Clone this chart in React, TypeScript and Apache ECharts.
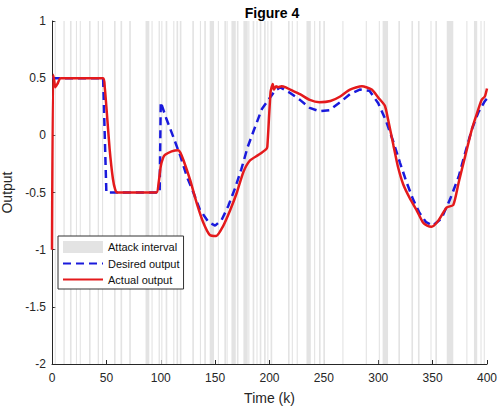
import React, { useEffect, useRef } from "react";
import * as echarts from "echarts";

const FONT = 'Arial, "Liberation Sans", sans-serif';

// Attack intervals [start, end] in k
const attackIntervals: [number, number][] = [
  [2.5, 3.5], [10.5, 11.7], [16.5, 18], [22, 23], [25.5, 26.5], [34, 35.5], [42, 43.2], [46, 47],
  [57, 58.5], [63, 64.5], [71, 72.5], [86, 89.5], [91.5, 92.5], [98, 99.2], [100.5, 101.5],
  [104.5, 106], [111.5, 112.5], [114.5, 116], [117.5, 119], [129, 130.5], [136, 137], [140, 141.5],
  [145, 149], [152.5, 153.5], [158.5, 160], [160.5, 161.5], [165, 169], [170, 171.5], [176, 180],
  [180.5, 181.5], [184.5, 186], [188, 189], [191, 192.5], [195, 196.5], [198, 199], [201, 202.5],
  [217, 218.5], [220.5, 221.5], [225, 226], [234, 238], [241, 242], [245.5, 247], [249.5, 251],
  [267, 268], [288.5, 289.5], [300.5, 301.5], [304, 309], [318.5, 320], [330.5, 332], [336.5, 338],
  [348, 349], [352.5, 354], [363, 369], [381, 382], [388, 391], [394, 395], [397, 398],
];

// Desired output
const desiredK = [0, 47, 50, 99, 100, 105, 111, 118, 124, 130, 136, 144, 150, 156, 162, 168, 174, 180, 187, 193, 199, 205, 210, 219, 228, 237, 246, 255, 265, 274, 283, 292, 300, 307, 314, 320, 326, 332, 338, 344, 350, 358, 366, 374, 380, 386, 392, 398, 400];
const desiredV = [0.5, 0.5, -0.5, -0.5, 0.29, 0.15, 0.0, -0.18, -0.36, -0.5, -0.65, -0.76, -0.79, -0.74, -0.62, -0.47, -0.3, -0.1, 0.08, 0.23, 0.31, 0.39, 0.42, 0.37, 0.31, 0.24, 0.21, 0.22, 0.29, 0.36, 0.4, 0.39, 0.28, 0.13, -0.06, -0.24, -0.41, -0.56, -0.68, -0.76, -0.79, -0.73, -0.56, -0.36, -0.15, 0.05, 0.2, 0.3, 0.32];

// Actual output
const actualK = [0, 1, 2, 3, 5, 8, 47, 48.5, 50, 53, 56, 58, 60, 96, 98, 100, 102, 104, 110, 116, 118, 121, 127, 133, 139, 145, 151, 157, 164, 170, 176, 182, 190, 197, 198, 201, 203, 204, 206, 208, 211, 215, 219, 228, 237, 246, 256, 265, 274, 285, 294, 300, 306, 309, 314, 318, 323, 329, 335, 341, 345, 349, 355, 363, 369, 374, 380, 386, 390, 395, 398, 400];
const actualV = [-1, 0.53, 0.48, 0.42, 0.45, 0.5, 0.5, 0.42, 0.25, -0.12, -0.38, -0.47, -0.5, -0.5, -0.42, -0.27, -0.2, -0.17, -0.14, -0.13, -0.15, -0.22, -0.39, -0.59, -0.76, -0.87, -0.88, -0.8, -0.65, -0.5, -0.32, -0.22, -0.17, -0.12, -0.1, 0.38, 0.45, 0.4, 0.43, 0.42, 0.43, 0.42, 0.4, 0.36, 0.31, 0.29, 0.3, 0.34, 0.4, 0.43, 0.4, 0.33, 0.26, 0.14, -0.09, -0.27, -0.43, -0.55, -0.65, -0.76, -0.79, -0.8, -0.75, -0.63, -0.61, -0.41, -0.18, 0.05, 0.17, 0.31, 0.34, 0.41];

export default function App() {
  const ref = useRef<HTMLDivElement>(null);
  useEffect(() => {
    if (!ref.current) return;
    document.body.style.margin = "0";
    const chart = echarts.init(ref.current, null, { renderer: "svg" });
    const axisColor = "#262626";
    chart.setOption({
      animation: false,
      backgroundColor: "#ffffff",
      title: {
        text: "Figure 4",
        left: 267,
        textAlign: "center",
        top: 1,
        textStyle: { fontFamily: FONT, fontWeight: "bold", fontSize: 14, color: "#000" },
      },
      grid: { left: 52, right: 12, top: 21, bottom: 47, outerBoundsMode: "none", containLabel: false },
      legend: {
        orient: "vertical",
        left: 58,
        top: 236,
        padding: [5, 4, 4, 4],
        itemGap: 5,
        itemWidth: 40,
        itemHeight: 12,
        backgroundColor: "#ffffff",
        borderColor: "#333",
        borderWidth: 1,
        borderRadius: 0,
        textStyle: { fontFamily: FONT, fontSize: 11, color: "#111" },
        data: [
          { name: "Attack interval", icon: "rect" },
          { name: "Desired output", itemStyle: { opacity: 0 } },
          { name: "Actual output", itemStyle: { opacity: 0 } },
        ],
      },
      xAxis: {
        type: "value",
        min: 0,
        max: 400,
        interval: 50,
        name: "Time (k)",
        nameLocation: "middle",
        nameGap: 27,
        nameTextStyle: { fontFamily: FONT, fontSize: 14, color: axisColor },
        axisLine: { show: true, onZero: false, lineStyle: { color: axisColor, width: 1 } },
        axisTick: { show: true, inside: true, length: 4, lineStyle: { color: axisColor } },
        axisLabel: { fontFamily: FONT, fontSize: 12, color: axisColor, margin: 8 },
        splitLine: { show: false },
      },
      yAxis: {
        type: "value",
        min: -2,
        max: 1,
        interval: 0.5,
        name: "Output",
        nameLocation: "middle",
        nameGap: 33,
        nameTextStyle: { fontFamily: FONT, fontSize: 14, color: axisColor },
        axisLine: { show: true, onZero: false, lineStyle: { color: axisColor, width: 1 } },
        axisTick: { show: true, inside: true, length: 4, lineStyle: { color: axisColor } },
        axisLabel: { fontFamily: FONT, fontSize: 12, color: axisColor, margin: 6 },
        splitLine: { show: false },
      },
      series: [
        {
          name: "Attack interval",
          type: "custom",
          z: 1,
          itemStyle: { color: "#e3e3e3" },
          encode: { x: [0, 1] },
          data: attackIntervals,
          renderItem: (params: any, api: any) => {
            const p1 = api.coord([api.value(0), 1]);
            const p2 = api.coord([api.value(1), -2]);
            const cs = params.coordSys;
            const x = p1[0];
            const w = Math.max(p2[0] - p1[0], 1);
            return {
              type: "rect",
              shape: { x, y: cs.y, width: w, height: cs.height },
              style: { fill: "#e3e3e3" },
            };
          },
        },
        {
          name: "Desired output",
          type: "line",
          z: 3,
          showSymbol: false,
          symbol: "none",
          data: desiredK.map((k, i) => [k, desiredV[i]]),
          lineStyle: { color: "#1a1adc", width: 2.5, type: [8, 5] },
          itemStyle: { color: "#1a1adc" },
        },
        {
          name: "Actual output",
          type: "line",
          z: 4,
          showSymbol: false,
          symbol: "none",
          smooth: 0.2,
          data: actualK.map((k, i) => [k, actualV[i]]),
          lineStyle: { color: "#e41a1c", width: 2.5 },
          itemStyle: { color: "#e41a1c" },
        },
      ],
    });
    return () => chart.dispose();
  }, []);
  return <div ref={ref} style={{ width: 499, height: 411 }} />;
}
